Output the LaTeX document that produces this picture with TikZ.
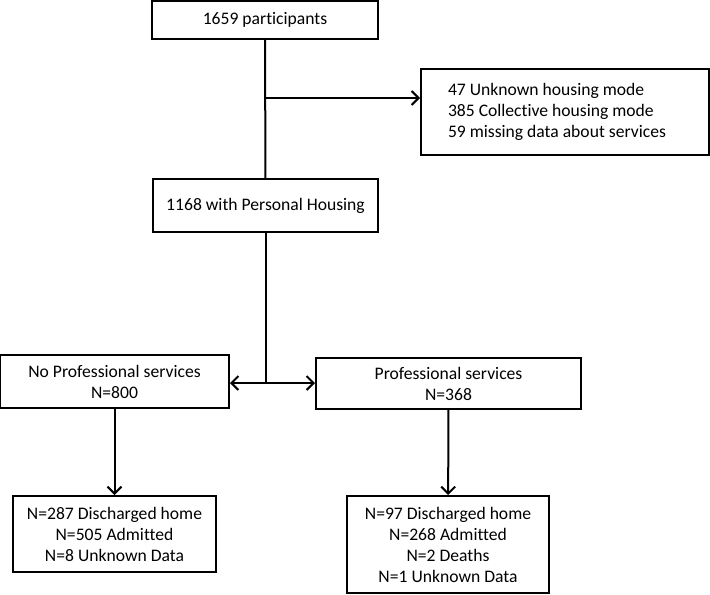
\documentclass[tikz,border=0pt]{standalone}
\usepackage{fontspec}
\setmainfont{Carlito}[Ligatures=NoCommon]
\usetikzlibrary{arrows.meta}
\begin{document}
\begin{tikzpicture}
  [x=0.5pt,y=-0.5pt,line width=1pt,>={Straight Barb[length=3.5pt,width=7pt]},
   every node/.style={draw,rectangle,align=center,font=\fontsize{8.8}{10.5}\selectfont}]
\useasboundingbox (0,0) rectangle (710,594);
\node (n1)[minimum width=113pt,minimum height=19pt] at (265,20) {1659 participants};
  \node (n2)[text width=117pt,inner xsep=13.5pt,align=flush left,minimum height=43pt] at (565,112)
    {47 Unknown housing mode\\385 Collective housing mode\\59 missing data about services};
  \node (n3)[minimum width=112.5pt,minimum height=26.5pt] at (265.5,205.5) {1168 with Personal Housing};
  \node (n4)[minimum width=114.5pt,minimum height=26.5pt] at (114.5,381.5) {No Professional services\\N=800};
  \node (n5)[minimum width=132.5pt,minimum height=25.5pt] at (448.5,383.5) {Professional services\\N=368};
  \node (n6)[minimum width=101.5pt,minimum height=38pt] at (114.5,534) {N=287 Discharged home\\N=505 Admitted\\N=8 Unknown Data};
  \node (n7)[minimum width=101pt,minimum height=48.5pt] at (448,544.5) {N=97 Discharged home\\N=268 Admitted\\N=2 Deaths\\N=1 Unknown Data};

  \coordinate (s1) at (265,98);
  \coordinate (s2) at (n3.south |- 0,383);

  \path[line width=1pt]
   (n1) edge (n3)
   (s1) edge [->] (s1 -| n2.west);

  \path[line width=1pt]
   (n3) edge (s2)
   (s2) edge [->] (s2 -| n4.east)
   (s2) edge [->] (s2 -| n5.west);

  \path[line width=1pt]
   (n4) edge [->] (n6)
   (n5) edge [->] (n7);

\end{tikzpicture}
\end{document}
